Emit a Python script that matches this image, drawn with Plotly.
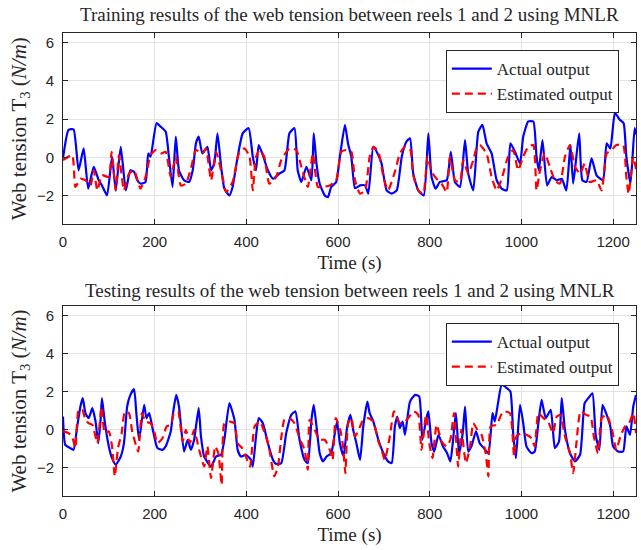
import plotly.graph_objects as go

# ---------------- data (time in s, tension in N/m) ----------------
train_actual = [
    (0, -0.05), (12, 1.44), (23, 1.47), (34, -0.67), (45, 0.47), (55, -1.63), (67, -0.49),
    (78, -1.19), (85, -1.46), (96, -1.98), (107, 0.04), (115, -1.72), (126, 0.56), (137, -1.72),
    (147, -0.67), (155, -0.75), (162, -1.19), (169, -1.37), (180, -1.28), (186, 0.21), (191, 0.04),
    (204, 1.79), (213, 1.61), (224, 1.35), (231, 0.04), (239, -1.54), (246, 1.09), (253, -0.67),
    (264, -1.19), (275, -1.28), (283, -0.67), (290, 0.74), (296, 1.09), (304, 0.21), (315, 0.56),
    (323, -0.67), (330, -0.32), (337, 1.26), (345, -0.49), (352, -1.63), (363, -1.98), (370, -1.54),
    (381, 0.04), (392, 1.26), (405, 1.53), (414, 0.04), (421, -0.67), (427, 0.65), (436, 0.12),
    (447, -0.67), (458, -1.11), (472, -0.84), (483, -0.67), (494, 1.26), (505, 1.53), (512, -0.67),
    (520, -1.28), (531, -0.49), (542, -1.19), (547, 1.26), (553, -0.32), (560, -1.37), (571, -1.98),
    (578, -2.07), (585, -1.54), (596, -1.28), (604, 0.04), (615, 1.70), (622, 0.70), (629, 0.04),
    (637, -1.60), (648, -1.46), (659, -1.46), (666, -1.89), (677, 0.56), (688, 0.12), (695, -0.32),
    (706, -1.72), (717, -1.89), (728, -1.72), (739, 0.04), (749, 0.82), (757, 1.00), (764, -0.84),
    (775, -1.72), (787, -1.98), (797, 1.26), (804, -1.02), (813, -1.63), (822, -1.28), (837, -1.19),
    (846, 0.30), (855, -1.28), (866, -1.54), (877, 0.91), (884, -0.84), (895, -1.72), (906, 1.35),
    (915, 1.70), (924, 0.74), (935, 0.21), (946, -1.19), (957, -1.63), (968, -1.72), (976, 0.74),
    (986, 0.30), (997, -0.32), (1004, 1.09), (1015, 1.88), (1026, 1.88), (1033, 0.04), (1038, -0.67),
    (1046, 0.91), (1056, -1.46), (1066, -1.02), (1077, -1.19), (1088, -1.11), (1098, -1.72),
    (1107, 0.65), (1113, -1.37), (1126, 1.26), (1133, -1.19), (1142, -1.28), (1153, -0.05),
    (1164, -0.93), (1178, -1.19), (1186, 0.74), (1194, 0.47), (1204, 2.32), (1215, 1.96),
    (1223, 1.79), (1229, 0.04), (1238, -1.37), (1247, 1.53), (1250, 1.2),
]

train_estimated = [
    (0, -0.14), (20, 0.12), (27, -1.54), (38, -1.11), (49, -1.19), (60, -1.46), (67, -0.67),
    (75, -1.72), (85, -0.93), (100, -1.02), (106, 0.30), (115, -1.72), (122, 0.12), (133, -1.72),
    (144, -0.84), (155, -0.67), (169, -1.63), (180, -1.02), (191, 0.12), (202, 0.39), (213, 0.21),
    (224, 0.30), (235, -1.02), (246, 0.04), (257, -1.46), (268, -1.37), (279, -0.58), (290, 0.39),
    (304, 0.21), (312, 0.47), (323, -1.19), (334, 0.30), (348, -1.02), (356, -1.81), (370, -1.28),
    (385, 0.30), (396, 0.47), (407, 0.04), (414, -1.72), (421, 0.04), (429, 0.39), (439, 0.04),
    (450, -1.37), (465, -1.02), (476, -0.14), (494, 0.47), (509, 0.39), (520, -0.49), (534, -1.54),
    (545, 0.21), (556, -1.54), (567, -1.54), (582, -1.46), (596, -1.19), (607, 0.30), (618, 0.39),
    (629, 0.30), (637, -1.19), (648, -1.89), (659, -1.72), (669, 0.04), (677, 0.56), (688, 0.30),
    (699, -1.02), (709, -1.72), (724, -0.75), (735, 0.21), (746, 0.56), (757, 0.47), (764, -0.93),
    (775, -1.72), (786, -1.89), (795, 0.04), (804, -0.75), (815, -1.11), (826, -1.37), (837, -1.81),
    (844, 0.04), (855, -1.19), (866, -1.28), (873, -0.14), (884, -0.84), (895, -0.14), (902, 0.47),
    (909, 0.65), (924, 0.21), (935, -1.02), (946, -1.72), (957, -1.11), (971, 0.04), (982, 0.39),
    (993, -0.67), (1004, 0.04), (1015, 0.56), (1026, 0.65), (1033, -1.72), (1040, -0.75),
    (1051, 0.21), (1062, -0.49), (1073, -1.19), (1084, -1.37), (1095, 0.04), (1106, 0.65),
    (1117, -0.49), (1128, -0.84), (1138, -0.32), (1149, -1.28), (1164, -1.19), (1175, -1.72),
    (1186, 0.21), (1197, 0.39), (1207, 0.65), (1222, 0.65), (1229, -1.02), (1234, -1.9),
    (1244, 0.04), (1250, -0.6),
]

test_actual = [
    (0, 0.68), (5, -0.81), (16, -0.98), (23, -1.07), (31, 0.16), (38, 1.21), (43, 1.65), (49, 0.86),
    (56, 0.60), (64, 1.12), (71, 0.42), (77, -0.72), (82, 0.51), (85, 1.65), (91, 0.42), (100, -0.89),
    (107, -1.51), (115, -1.86), (126, -1.42), (133, -0.72), (140, 1.21), (147, 1.82), (155, 2.12),
    (160, 0.86), (166, -0.54), (177, 1.30), (182, 0.60), (188, 0.86), (196, -0.02), (206, -0.98),
    (217, -1.07), (224, -0.89), (235, -0.11), (240, 0.86), (247, 1.82), (253, 1.21), (264, -1.16),
    (272, -0.54), (279, -1.07), (286, -0.54), (296, 1.12), (301, -0.37), (308, -1.42), (323, -1.95),
    (334, -1.42), (345, -1.33), (352, -0.54), (363, 1.39), (374, 0.51), (381, -1.07), (388, -1.42),
    (399, -1.33), (410, -1.60), (414, -1.95), (421, -0.37), (427, 0.60), (436, 0.33), (447, -0.72),
    (458, -1.60), (465, -1.81), (476, -1.77), (487, -0.19), (498, 0.77), (507, 0.95), (516, -0.54),
    (527, -1.60), (534, -1.77), (542, 0.51), (547, 1.30), (553, 0.16), (560, -1.25), (567, -1.68),
    (575, -1.42), (585, -1.25), (593, -0.19), (598, 0.42), (604, -0.72), (612, -1.40), (620, 0.16),
    (627, 0.77), (633, -0.02), (640, -0.72), (648, -1.60), (655, 0.16), (664, 1.47), (669, 0.86),
    (677, 0.42), (688, -0.54), (699, -1.25), (709, -1.68), (717, -1.77), (724, 0.16), (729, 0.68),
    (735, 0.07), (741, 0.42), (746, -0.28), (757, 1.47), (768, 1.82), (777, 1.74), (784, -0.54),
    (792, 0.51), (797, 0.95), (804, -0.72), (810, -1.16), (819, -0.28), (829, -0.89), (838, -1.25),
    (845, -1.68), (851, -0.54), (857, 0.86), (864, -1.25), (872, -0.19), (877, 1.21), (884, -1.16),
    (891, -0.89), (901, -0.10), (909, -0.72), (918, -0.98), (928, -1.25), (937, 0.86), (942, 0.42),
    (949, 1.39), (957, 2.35), (968, 2.18), (976, 2.00), (982, -0.19), (988, -1.51), (997, 1.30),
    (1004, 0.33), (1011, -0.89), (1022, -1.25), (1029, -1.16), (1037, 0.33), (1044, 1.56),
    (1053, 0.60), (1064, 1.04), (1073, -0.98), (1082, -0.63), (1088, 1.65), (1095, -0.02),
    (1106, -1.25), (1117, -1.68), (1128, -1.33), (1138, 1.39), (1146, 1.65), (1155, 1.91),
    (1162, -0.28), (1170, -1.07), (1177, 1.30), (1186, 0.77), (1194, 0.16), (1200, -0.89),
    (1211, -1.16), (1222, -1.16), (1229, 0.16), (1237, -0.28), (1244, 1.21), (1250, 1.82),
]

test_estimated = [
    (0, -0.10), (12, -0.19), (20, -0.37), (27, -0.98), (34, 1.04), (42, 1.04), (49, 0.51),
    (56, 0.33), (64, 0.25), (75, -0.72), (84, 1.21), (91, -0.19), (100, -0.10), (107, -0.89),
    (113, -2.47), (120, -0.98), (128, -0.19), (135, 0.95), (144, 0.86), (151, -0.10), (164, -1.16),
    (172, 0.86), (180, 0.42), (191, 0.33), (199, -0.10), (206, -0.72), (217, -0.46), (226, 0.16),
    (235, 0.25), (242, 0.86), (251, 0.95), (261, -0.63), (268, -0.02), (277, -0.72), (286, -0.02),
    (297, -1.07), (308, -1.95), (315, -0.89), (323, -2.56), (332, -0.89), (339, -1.25), (346, -2.91),
    (352, 0.33), (363, 0.42), (374, 0.33), (381, -0.72), (391, -0.98), (399, -1.42), (408, -1.95),
    (418, 0.16), (429, 0.42), (439, -0.10), (449, -0.89), (461, -2.47), (469, -1.95), (476, -0.46),
    (483, 0.51), (494, 0.60), (505, 0.33), (516, -0.46), (527, -1.07), (534, -2.12), (538, 0.51),
    (549, -0.02), (560, -0.54), (571, -0.54), (582, -1.07), (588, -1.60), (595, 0.60), (605, -0.02),
    (611, -0.90), (616, -2.30), (622, 0.33), (629, 0.60), (637, -0.37), (648, 0.16), (655, 0.51),
    (666, 0.60), (677, 0.42), (688, -0.63), (695, -1.07), (702, -1.60), (713, -0.37), (722, 0.95),
    (735, 0.33), (746, 0.42), (753, 0.60), (765, 0.95), (775, 0.77), (782, -1.07), (792, 0.77),
    (799, -0.72), (806, -1.51), (815, 0.25), (826, -0.63), (837, -0.89), (845, -0.54), (853, 0.86),
    (862, -1.95), (869, -0.02), (879, -1.77), (888, -0.89), (895, 0.33), (904, -0.02), (913, -0.28),
    (922, -1.25), (928, -2.47), (933, 0.16), (946, 0.25), (960, 0.95), (975, 0.86), (984, -1.42),
    (989, -0.37), (1000, -0.19), (1011, -0.28), (1022, -0.46), (1029, -0.89), (1037, 0.86),
    (1048, 0.60), (1058, 0.42), (1069, -0.19), (1077, 0.68), (1085, 0.77), (1095, -0.37),
    (1106, -1.25), (1113, -2.30), (1120, -0.72), (1129, 0.95), (1141, 0.77), (1151, 0.68),
    (1158, -0.37), (1167, -1.25), (1175, 0.60), (1186, 0.77), (1197, 0.07), (1207, -1.07),
    (1216, -0.37), (1226, 0.16), (1235, 0.33), (1244, 0.86), (1250, -0.19),
]

x_ticks = [0, 200, 400, 600, 800, 1000, 1200]
y_ticks = [-2, 0, 2, 4, 6]
titles = [
    "Training results of the web tension between reels 1 and 2 using MNLR",
    "Testing results of the web tension between reels 1 and 2 using MNLR",
]
legend_names = ["Actual output", "Estimated output"]
y_label = "Web tension T<sub>3</sub> (<i>N/m</i>)"
x_label = "Time (s)"

# ---------------- styling ----------------
SERIF = "Liberation Serif, Times New Roman, serif"
SANS = "Liberation Sans, Arial, sans-serif"
AX = "#262626"
GRID = "#e3e3e3"

fig = go.Figure()


def add_pair(actual, estimated, xa, ya, legend):
    fig.add_trace(go.Scatter(
        x=[p[0] for p in actual], y=[p[1] for p in actual], mode="lines",
        name=legend_names[0], line=dict(color="#0000ff", width=2.2, shape="spline", smoothing=0.5),
        xaxis=xa, yaxis=ya, legend=legend))
    fig.add_trace(go.Scatter(
        x=[p[0] for p in estimated], y=[p[1] for p in estimated], mode="lines",
        name=legend_names[1], line=dict(color="#ff0000", width=2.2, dash="8px,5px", shape="spline", smoothing=0.5),
        xaxis=xa, yaxis=ya, legend=legend))


add_pair(train_actual, train_estimated, "x", "y", "legend")
add_pair(test_actual, test_estimated, "x2", "y2", "legend2")

xcommon = dict(range=[0, 1250], tickvals=x_ticks, showgrid=True, gridcolor=GRID, gridwidth=1,
               showline=True, linecolor=AX, linewidth=1, mirror="ticks", ticks="inside",
               ticklen=5, tickcolor=AX, zeroline=False, ticklabelstandoff=4,
               tickfont=dict(family=SANS, size=15, color=AX),
               title=dict(text=x_label, font=dict(family=SERIF, size=19, color=AX), standoff=6))
ycommon = dict(range=[-3.5, 6.5], tickvals=y_ticks, showgrid=True, gridcolor=GRID, gridwidth=1,
               showline=True, linecolor=AX, linewidth=1, mirror="ticks", ticks="inside",
               ticklen=5, tickcolor=AX, zeroline=False, ticklabelstandoff=5,
               tickfont=dict(family=SANS, size=15, color=AX),
               title=dict(text=y_label, font=dict(family=SERIF, size=21, color=AX), standoff=4))

top_dom = [0.5864, 1.0]
bot_dom = [0.0, 0.4104]

leg_common = dict(bgcolor="white", bordercolor=AX, borderwidth=1,
                  font=dict(family=SERIF, size=17, color=AX), xanchor="right", yanchor="top",
                  tracegroupgap=0, itemwidth=40)

fig.update_layout(
    width=641, height=550,
    margin=dict(l=63, r=5, t=33, b=54),
    paper_bgcolor="white", plot_bgcolor="white",
    xaxis=dict(domain=[0, 1], anchor="y", **xcommon),
    yaxis=dict(domain=top_dom, anchor="x", **ycommon),
    xaxis2=dict(domain=[0, 1], anchor="y2", **xcommon),
    yaxis2=dict(domain=bot_dom, anchor="x2", **ycommon),
    legend=dict(x=0.970, y=0.9633, **leg_common),
    legend2=dict(x=0.970, y=0.3737, **leg_common),
    annotations=[
        dict(text=titles[0], x=0.5, y=1.0 + 18 / 463, xref="paper", yref="paper",
             xanchor="center", yanchor="middle", showarrow=False,
             font=dict(family=SERIF, size=19, color=AX)),
        dict(text=titles[1], x=0.5, y=1.0 - (290 - 33) / 463, xref="paper", yref="paper",
             xanchor="center", yanchor="middle", showarrow=False,
             font=dict(family=SERIF, size=19, color=AX)),
    ],
)

fig.write_html("out.html")
